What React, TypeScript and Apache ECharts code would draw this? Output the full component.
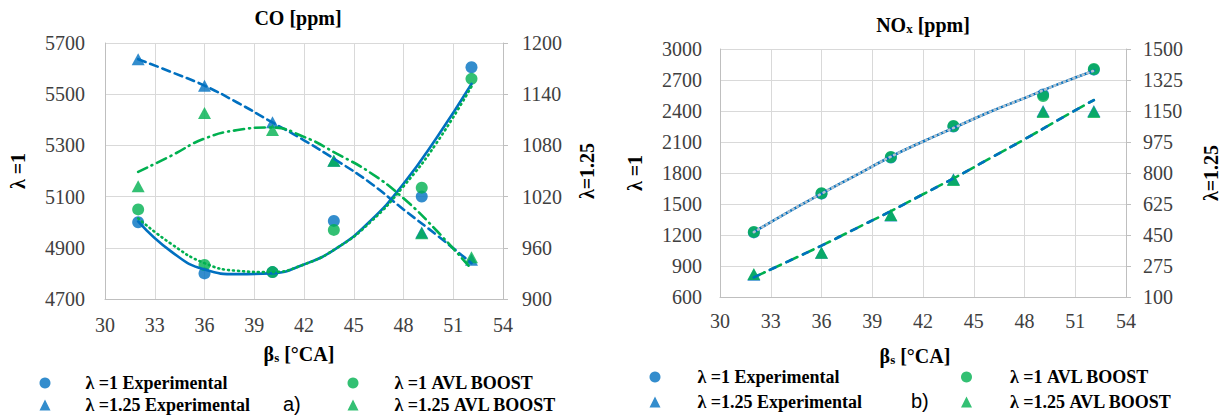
import React, { useEffect, useRef } from "react";
import * as echarts from "echarts";

// ---- data ----
const betaTicks = [30, 33, 36, 39, 42, 45, 48, 51, 54];
const betaPoints = [32, 36, 40.1, 43.8, 49.1, 52.1];
const betaTrend = [32, 34, 36, 38, 40, 42, 44, 46, 48, 50, 52.1];

// a) CO [ppm]
const coLam1Exp = [5000, 4800, 4805, 5005, 5100, 5605];
const coLam1Avl = [5050, 4833, 4805, 4970, 5135, 5560];
const coLam125Exp = [1181, 1150, 1107, 1062, 978, 946];
const coLam125Avl = [1032, 1118, 1098, 1062, 977, 949];
const coTrend1Exp = [5003, 4885, 4815, 4797, 4800, 4835, 4900, 5005, 5150, 5330, 5540];
const coTrend1Avl = [5015, 4915, 4840, 4810, 4805, 4835, 4900, 5000, 5140, 5310, 5530];
const coTrend125Exp = [1181, 1166, 1150, 1130, 1108, 1086, 1062, 1036, 1005, 975, 942];
const coTrend125Avl = [1049, 1068, 1088, 1098, 1101, 1090, 1070, 1048, 1018, 980, 935];

// b) NOx [ppm]
const noxLam1Exp = [1225, 1600, 1950, 2250, 2560, 2800];
const noxLam1Avl = [1230, 1605, 1955, 2255, 2545, 2806];
const noxLam125Exp = [225, 350, 560, 765, 1150, 1150];
const noxLam125Avl = [230, 350, 563, 760, 1144, 1144];
const noxTrend1Exp = [1228, 1420, 1600, 1775, 1950, 2105, 2250, 2395, 2525, 2660, 2790];
const noxTrend1Avl = [1228, 1420, 1600, 1775, 1950, 2105, 2250, 2395, 2525, 2660, 2790];
const noxTrend125Exp = [211, 300, 390, 485, 580, 680, 780, 885, 990, 1100, 1212];
const noxTrend125Avl = [211, 300, 390, 485, 580, 680, 780, 885, 990, 1100, 1212];

// axis ranges
const coLeft = { min: 4700, max: 5700, interval: 200 };
const coRight = { min: 900, max: 1200, interval: 60 };
const noxLeft = { min: 600, max: 3000, interval: 300 };
const noxRight = { min: 100, max: 1500, interval: 175 };

const NAME_L1E = "λ =1 Experimental";
const NAME_L125E = "λ =1.25 Experimental";
const NAME_L1A = "λ =1 AVL BOOST";
const NAME_L125A = "λ =1.25 AVL BOOST";

const BLUE = "#0070C0";
const GREEN = "#00B050";
const SERIF = "Liberation Serif";
const SANS = "Liberation Sans";

const pts = (xs: number[], ys: number[]) => xs.map((x, i) => [x, ys[i]]);

const axisLabelStyle = {
  fontFamily: SERIF,
  fontSize: 20,
  color: "#404040",
  formatter: (v: number) => String(v),
};
const gridLine = { show: true, lineStyle: { color: "#d9d9d9", width: 1 } };
const axLine = { show: true, onZero: false, lineStyle: { color: "#bfbfbf", width: 1 } };

const subRich = {
  b: { fontFamily: SERIF, fontSize: 20, fontWeight: "bold", color: "#000" },
  s: { fontFamily: SERIF, fontSize: 13, fontWeight: "bold", color: "#000", verticalAlign: "bottom", padding: [8, 0, 0, 0] },
};

function xAxis(gridIndex: number, gap: number, margin: number, shift: number) {
  return {
    type: "value",
    gridIndex,
    min: betaTicks[0],
    max: betaTicks[betaTicks.length - 1],
    interval: betaTicks[1] - betaTicks[0],
    axisLine: axLine,
    axisTick: { show: false },
    splitLine: gridLine,
    axisLabel: { ...axisLabelStyle, margin },
    name: "{b|β}{s|s}{b| [°CA]}",
    nameLocation: "middle",
    nameGap: gap,
    nameTextStyle: { fontFamily: SERIF, rich: subRich, padding: [0, shift, 0, 0] },
  };
}

function yAxis(gridIndex: number, pos: "left" | "right", r: any, name: string, gap: number, margin: number) {
  return {
    type: "value",
    gridIndex,
    position: pos,
    min: r.min,
    max: r.max,
    interval: r.interval,
    axisLine: axLine,
    axisTick: pos === "right" ? { show: true, length: 5, lineStyle: { color: "#bfbfbf" } } : { show: false },
    splitLine: pos === "left" ? gridLine : { show: false },
    axisLabel: { ...axisLabelStyle, margin },
    name,
    nameLocation: "middle",
    nameRotate: 90,
    nameGap: gap,
    nameTextStyle: { fontFamily: SERIF, fontSize: 20, fontWeight: "bold", color: "#000" },
  };
}

function scatter(name: string, xi: number, yi: number, data: number[], color: string, symbol: string, z: number) {
  return {
    type: "scatter",
    name,
    xAxisIndex: xi,
    yAxisIndex: yi,
    data: pts(betaPoints, data),
    symbol,
    symbolSize: symbol === "triangle" ? [13, 12] : 12,
    itemStyle: { color },
    z,
  };
}

function trend(id: string, xi: number, yi: number, data: number[], color: string, type: any, z: number) {
  return {
    type: "line",
    name: id,
    xAxisIndex: xi,
    yAxisIndex: yi,
    data: pts(betaTrend, data),
    showSymbol: false,
    symbol: "none",
    smooth: true,
    lineStyle: { color, width: 2.6, type, cap: "round" },
    z,
  };
}

function legend(left: number, top: number, gap: number, pad: number, items: { name: string; icon: string }[]) {
  return {
    orient: "vertical",
    left,
    top,
    padding: 0,
    itemWidth: 11,
    itemHeight: 11,
    itemGap: gap,
    selectedMode: false,
    data: items,
    textStyle: { fontFamily: SERIF, fontSize: 18, fontWeight: "bold", color: "#000", padding: [0, 0, 0, pad] },
  };
}

export default function App() {
  const ref = useRef<HTMLDivElement>(null);
  useEffect(() => {
    if (!ref.current) return;
    const chart = echarts.init(ref.current, undefined, { renderer: "svg" });
    const option: any = {
      animation: false,
      backgroundColor: "#ffffff",
      textStyle: { fontFamily: SERIF },
      title: [
        {
          text: "CO [ppm]",
          left: 298,
          top: 8,
          padding: 0,
          textAlign: "center",
          textStyle: { fontFamily: SERIF, fontSize: 20, fontWeight: "bold", color: "#000" },
        },
        {
          text: "{b|NO}{s|x}{b| [ppm]}",
          left: 923,
          top: 14,
          padding: 0,
          textAlign: "center",
          textStyle: { fontFamily: SERIF, rich: subRich },
        },
        { text: "a)", left: 283, top: 394, padding: 0, textStyle: { fontFamily: SANS, fontSize: 20, fontWeight: "normal", color: "#000" } },
        { text: "b)", left: 911, top: 391, padding: 0, textStyle: { fontFamily: SANS, fontSize: 20, fontWeight: "normal", color: "#000" } },
      ],
      grid: [
        { left: 105, top: 43, width: 398, height: 256 },
        { left: 720, top: 49, width: 406, height: 248 },
      ],
      xAxis: [xAxis(0, 44, 16, 10), xAxis(1, 48, 14, 16)],
      yAxis: [
        yAxis(0, "left", coLeft, "λ =1", 77, 20),
        yAxis(0, "right", coRight, "λ=1.25", 74, 19),
        yAxis(1, "left", noxLeft, "λ =1", 75, 18),
        yAxis(1, "right", noxRight, "λ=1.25", 75, 17),
      ],
      legend: [
        legend(39.5, 374, 4, 30, [
          { name: NAME_L1E, icon: "circle" },
          { name: NAME_L125E, icon: "triangle" },
        ]),
        legend(347.5, 374, 4, 31, [
          { name: NAME_L1A, icon: "circle" },
          { name: NAME_L125A, icon: "triangle" },
        ]),
        legend(649.5, 368, 7, 32, [
          { name: NAME_L1E, icon: "circle" },
          { name: NAME_L125E, icon: "triangle" },
        ]),
        legend(961, 368, 7, 33, [
          { name: NAME_L1A, icon: "circle" },
          { name: NAME_L125A, icon: "triangle" },
        ]),
      ],
      series: [
        // a) CO
        scatter(NAME_L1E, 0, 0, coLam1Exp, BLUE, "circle", 3),
        scatter(NAME_L1A, 0, 0, coLam1Avl, GREEN, "circle", 4),
        scatter(NAME_L125E, 0, 1, coLam125Exp, BLUE, "triangle", 3),
        scatter(NAME_L125A, 0, 1, coLam125Avl, GREEN, "triangle", 4),
        trend("co-t1e", 0, 0, coTrend1Exp, BLUE, "solid", 5),
        trend("co-t1a", 0, 0, coTrend1Avl, GREEN, [1, 4], 6),
        trend("co-t125e", 0, 1, coTrend125Exp, BLUE, [8, 5], 5),
        trend("co-t125a", 0, 1, coTrend125Avl, GREEN, [10, 5, 1, 5], 6),
        // b) NOx
        scatter(NAME_L1E, 1, 2, noxLam1Exp, BLUE, "circle", 3),
        scatter(NAME_L1A, 1, 2, noxLam1Avl, GREEN, "circle", 4),
        scatter(NAME_L125E, 1, 3, noxLam125Exp, BLUE, "triangle", 3),
        scatter(NAME_L125A, 1, 3, noxLam125Avl, GREEN, "triangle", 4),
        trend("nox-t1e", 1, 2, noxTrend1Exp, BLUE, "solid", 5),
        trend("nox-t1a", 1, 2, noxTrend1Avl, "#b4c2cc", [1, 4], 6),
        trend("nox-t125a", 1, 3, noxTrend125Avl, GREEN, [12, 6], 5),
        trend("nox-t125e", 1, 3, noxTrend125Exp, BLUE, [6, 12], 6),
      ],
    };
    chart.setOption(option);
    return () => chart.dispose();
  }, []);
  return (
    <div
      ref={ref}
      style={{ position: "fixed", left: 0, top: 0, width: 1232, height: 417, background: "#fff" }}
    />
  );
}
